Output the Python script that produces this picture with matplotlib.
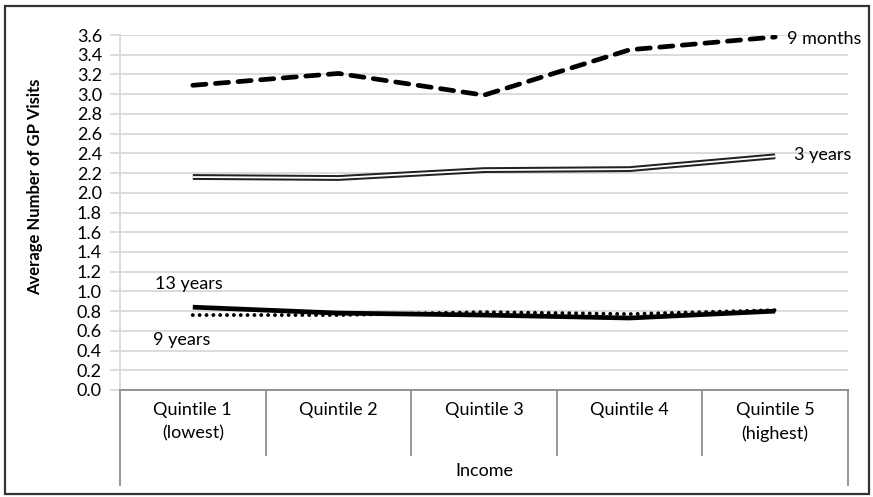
import matplotlib as mpl
mpl.use('Agg')
from matplotlib import pyplot as plt
from matplotlib.patches import Rectangle
from matplotlib.transforms import blended_transform_factory

plt.rcParams['font.family'] = ['Lato', 'DejaVu Sans']

# Data
quintiles = ['Quintile 1\n(lowest)', 'Quintile 2', 'Quintile 3', 'Quintile 4', 'Quintile 5\n(highest)']
months_9 = [3.09, 3.21, 2.99, 3.45, 3.58]
years_3 = [2.16, 2.15, 2.23, 2.24, 2.37]
years_13 = [0.84, 0.78, 0.76, 0.73, 0.80]
years_9 = [0.76, 0.76, 0.79, 0.77, 0.81]
yticks = [i * 0.2 for i in range(19)]

W, H = 873, 497
fig = plt.figure(figsize=(W / 100, H / 100), dpi=100)
ax = fig.add_axes([120 / W, (H - 390) / H, 728 / W, 355 / H])

x = list(range(len(quintiles)))

# 9 months: thick dashed
ax.plot(x, months_9, color='black', lw=3.4, linestyle=(0, (2.8, 2.0)),
        dash_capstyle='round', zorder=3)
# 3 years: double line (black with white core)
ax.plot(x, years_3, color='#222222', lw=4.2, solid_capstyle='butt', zorder=3)
ax.plot(x, years_3, color='white', lw=1.3, solid_capstyle='butt', zorder=4)
# 13 years: thick solid
ax.plot(x, years_13, color='black', lw=3.4, solid_capstyle='butt', zorder=3)
# 9 years: dotted
ax.plot(x, years_9, color='black', lw=2.8, linestyle=(0, (0.01, 1.75)),
        dash_capstyle='round', zorder=3)

ax.set_xlim(-0.5, len(quintiles) - 0.5)
ax.set_ylim(0, 3.6)
ax.set_yticks(yticks)
ax.set_yticklabels(['{:.1f}'.format(v) for v in yticks], fontsize=13)
ax.yaxis.grid(True, color='#d9d9d9', lw=1.3)
ax.set_axisbelow(True)
ax.tick_params(axis='y', length=7, color='#d9d9d9', width=1.3, pad=6)
ax.set_xticks([])

for s in ['top', 'right']:
    ax.spines[s].set_visible(False)
ax.spines['left'].set_color('#d9d9d9')
ax.spines['left'].set_linewidth(1.3)
ax.spines['bottom'].set_color('#8c8c8c')
ax.spines['bottom'].set_linewidth(1.3)

# category table below the axis
trans = blended_transform_factory(ax.transData, ax.transAxes)
n = len(quintiles)
for i in range(n + 1):
    bottom = -0.268 if i in (0, n) else -0.183
    ax.plot([i - 0.5, i - 0.5], [0, bottom], color='#8c8c8c', lw=1.3,
            transform=trans, clip_on=False)
for i, lab in enumerate(quintiles):
    ax.text(i, -0.035, lab, transform=trans, ha='center', va='top',
            fontsize=13, linespacing=1.55)
ax.text((n - 1) / 2, -0.205, 'Income', transform=trans, ha='center',
        va='top', fontsize=13)

# series labels
ax.text(4.08, 3.56, '9 months', fontsize=13, va='center')
ax.text(4.13, 2.38, '3 years', fontsize=13, va='center')
ax.text(-0.26, 1.07, '13 years', fontsize=13, va='center')
ax.text(-0.27, 0.51, '9 years', fontsize=13, va='center')

fig.text(35 / W, 1 - 187 / H, 'Average Number of GP Visits', rotation=90,
         fontsize=12, fontweight='bold', ha='center', va='center')

# outer frame
fig.patches.append(Rectangle((5 / W, 3 / H), 864 / W, 488 / H,
                             transform=fig.transFigure, fill=False,
                             edgecolor='#333333', lw=1.6))

plt.savefig('out.png', dpi=100)
